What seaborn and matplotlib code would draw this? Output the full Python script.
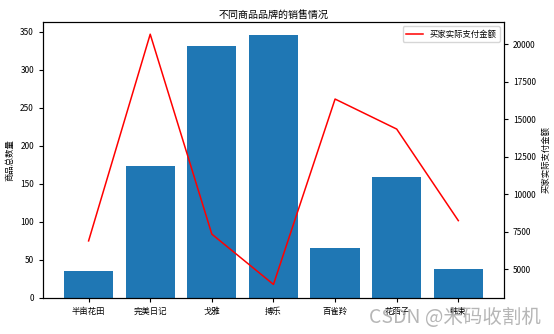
import numpy as np
import pandas as pd
import matplotlib
matplotlib.use("Agg")
import matplotlib.pyplot as plt
import seaborn as sns

brands = ["半亩花田", "完美日记", "戈雅", "搏乐", "百雀羚", "花西子", "韩束"]
quantity = [35, 173, 332, 346, 66, 159, 38]
payment = [6900, 20670, 7350, 4000, 16350, 14350, 8250]

plt.rcParams['font.family'] = ['Noto Sans CJK SC', 'DejaVu Sans']
plt.rcParams['axes.unicode_minus'] = False

df = pd.DataFrame({"brand": brands, "qty": quantity, "pay": payment,
                   "pos": np.arange(len(brands))})

fig = plt.figure(figsize=(5.54, 3.34), dpi=100)
ax = fig.add_axes([0.0776, 0.108, 0.832, 0.826])
sns.barplot(data=df, x="brand", y="qty", ax=ax, color="#1f77b4",
            saturation=1, width=0.8)
ax.set_xlim(-0.74, 6.74)
ax.set_ylim(0, 363)
ax.set_xlabel("")
ax.set_ylabel("商品总数量", fontsize=6)
ax.tick_params(labelsize=6, length=3)
ax.set_title("不同商品品牌的销售情况", fontsize=7.2, pad=2.5)

ax2 = ax.twinx()
sns.lineplot(data=df, x="pos", y="pay", ax=ax2, color="red",
             linewidth=1.1, label="买家实际支付金额")
ax2.set_xlim(-0.74, 6.74)
ax2.set_ylim(3100, 21480)
ax2.set_ylabel("买家实际支付金额", fontsize=6)
ax2.tick_params(labelsize=6, length=3)
ax2.legend(loc="upper right", fontsize=6)

fig.text(0.977, 0.05, "CSDN @米码收割机", ha="right", va="center",
         fontsize=14, color="#aaaaaa", alpha=0.85)

fig.savefig("out.png", dpi=100)
